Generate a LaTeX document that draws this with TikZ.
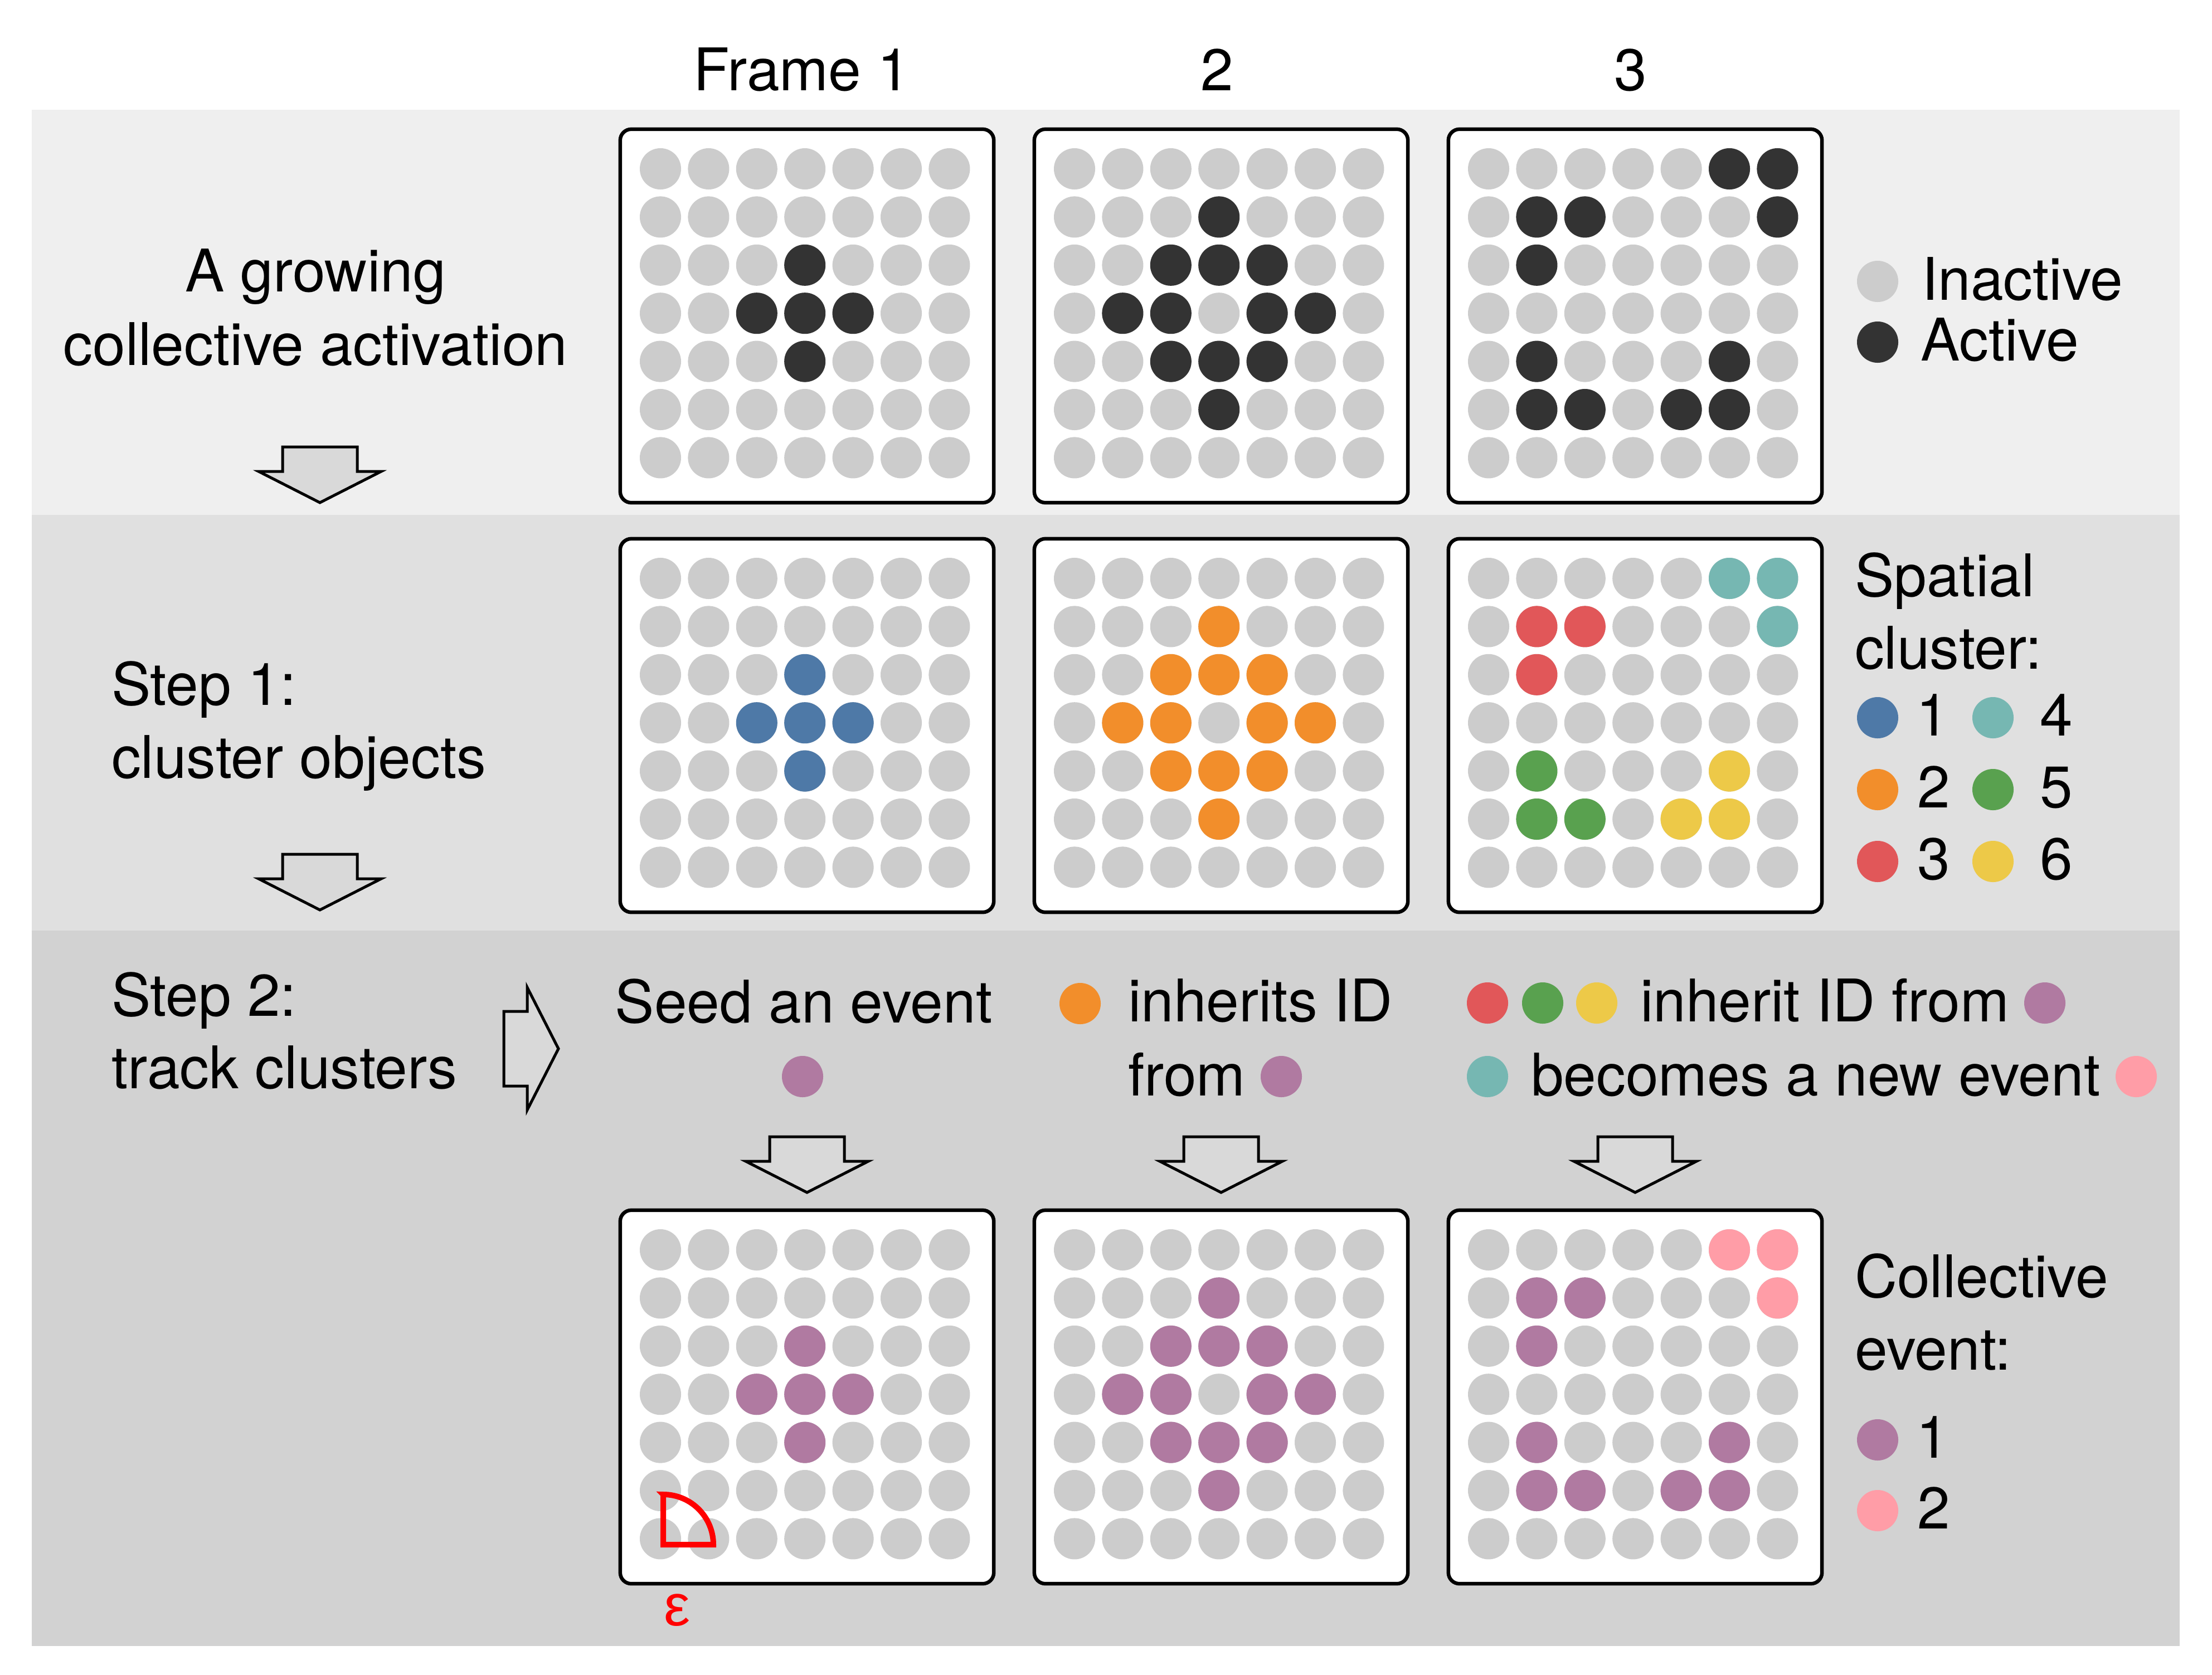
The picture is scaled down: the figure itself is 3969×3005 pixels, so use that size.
\documentclass[tikz,border=0pt]{standalone}
\usepackage{fontspec}
\setmainfont{TeX Gyre Heros}
\newfontfamily\epsfont{Liberation Sans}
\definecolor{band1}{HTML}{EFEFEF}
\definecolor{band2}{HTML}{E0E0E0}
\definecolor{band3}{HTML}{D2D2D2}
\definecolor{arrowfill}{HTML}{D9D9D9}
\definecolor{inact}{HTML}{CCCCCC}
\definecolor{act}{HTML}{333333}
\definecolor{cA}{HTML}{4E79A7}
\definecolor{cB}{HTML}{F28E2B}
\definecolor{cC}{HTML}{E15759}
\definecolor{cD}{HTML}{76B7B2}
\definecolor{cE}{HTML}{59A14F}
\definecolor{cF}{HTML}{EDC948}
\definecolor{evA}{HTML}{B07AA1}
\definecolor{evB}{HTML}{FF9DA7}
\newcommand{\greygrid}[2]{%
  \foreach \gi in {0,...,6}{\foreach \gj in {0,...,6}{%
    \fill[inact] ({#1+72+\gj*86.4},{#2+71+\gi*86.4}) circle[radius=0.37cm];}}}
\newcommand{\hilite}[4]{%
  \foreach \gr/\gc in {#4}{%
    \fill[#3] ({#1+72+\gc*86.4},{#2+71+\gr*86.4}) circle[radius=0.37cm];}}
\newcommand{\blockdown}[2]{%
  \draw[blockarrow] ({#1-67},#2) -- ({#1+67},#2) -- ({#1+67},{#2+44}) -- ({#1+110},{#2+44})
    -- (#1,{#2+100}) -- ({#1-110},{#2+44}) -- ({#1-67},{#2+44}) -- cycle;}
\begin{document}
\begin{tikzpicture}[x=0.01cm,y=-0.01cm,
  every node/.style={inner sep=0pt, outer sep=0pt},
  lbl/.style={font=\fontsize{30pt}{36pt}\selectfont, text=black},
  fbox/.style={draw=black, line width=0.065cm, rounded corners=0.2cm, fill=white,
    minimum width=6.7cm, minimum height=6.7cm},
  dot/.style={circle, minimum size=0.74cm},
  blockarrow/.style={draw=black, fill=arrowfill, line width=0.05cm, line join=miter},
]
\useasboundingbox (0,0) rectangle (3969,3005);
\fill[white] (0,0) rectangle (3969,3005);
\fill[band1] (57,197) rectangle (3911,924);
\fill[band2] (57,924) rectangle (3911,1670);
\fill[band3] (57,1670) rectangle (3911,2954);

% column titles
\node[lbl, anchor=base] (t1) at (1439,162) {Frame 1};
\node[lbl, anchor=base] (t2) at (2184,162) {2};
\node[lbl, anchor=base] (t3) at (2926,162) {3};

% left texts
\node[lbl, anchor=base] (la1) at (566,523) {A growing};
\node[lbl, anchor=base] (la2) at (566,655) {collective activation};
\node[lbl, anchor=base west] (ls1) at (200,1265) {Step 1:};
\node[lbl, anchor=base west] (ls2) at (200,1396) {cluster objects};
\node[lbl, anchor=base west] (lt1) at (200,1823) {Step 2:};
\node[lbl, anchor=base west] (lt2) at (200,1953) {track clusters};

% block arrows
\blockdown{574}{802}
\blockdown{574}{1533}
\blockdown{1448}{2040}
\blockdown{2191}{2040}
\blockdown{2934}{2040}
\draw[blockarrow] (904,1815) -- (946,1815) -- (946,1772) -- (1002,1882) -- (946,1992)
  -- (946,1949) -- (904,1949) -- cycle;

% frame boxes
\foreach \bx/\cn in {1113/1,1856/2,2599/3}{
  \foreach \by/\rn in {232/1,967/2,2172/4}{
    \node[fbox] (f\rn\cn) at ({\bx+335},{\by+335}) {};
  }
}

% row 1: activity
\greygrid{1113}{232}
\hilite{1113}{232}{act}{2/3,3/2,3/3,3/4,4/3}
\greygrid{1856}{232}
\hilite{1856}{232}{act}{1/3,2/2,2/3,2/4,3/1,3/2,3/4,3/5,4/2,4/3,4/4,5/3}
\greygrid{2599}{232}
\hilite{2599}{232}{act}{0/5,0/6,1/1,1/2,1/6,2/1,4/1,4/5,5/1,5/2,5/4,5/5}

% row 2: clusters
\greygrid{1113}{967}
\hilite{1113}{967}{cA}{2/3,3/2,3/3,3/4,4/3}
\greygrid{1856}{967}
\hilite{1856}{967}{cB}{1/3,2/2,2/3,2/4,3/1,3/2,3/4,3/5,4/2,4/3,4/4,5/3}
\greygrid{2599}{967}
\hilite{2599}{967}{cD}{0/5,0/6,1/6}
\hilite{2599}{967}{cC}{1/1,1/2,2/1}
\hilite{2599}{967}{cE}{4/1,5/1,5/2}
\hilite{2599}{967}{cF}{4/5,5/4,5/5}

% row 4: events
\greygrid{1113}{2172}
\hilite{1113}{2172}{evA}{2/3,3/2,3/3,3/4,4/3}
\greygrid{1856}{2172}
\hilite{1856}{2172}{evA}{1/3,2/2,2/3,2/4,3/1,3/2,3/4,3/5,4/2,4/3,4/4,5/3}
\greygrid{2599}{2172}
\hilite{2599}{2172}{evB}{0/5,0/6,1/6}
\hilite{2599}{2172}{evA}{1/1,1/2,2/1,4/1,4/5,5/1,5/2,5/4,5/5}

% epsilon
\draw[red, line width=0.1cm, line join=miter] (1190,2682) -- (1190,2772) -- (1280,2772)
  arc[start angle=0, end angle=90, radius=0.9cm] -- cycle;
\node[anchor=base, text=red, font=\epsfont\fontsize{30pt}{36pt}\selectfont] (eps) at (1215,2917) {ε};

% legend row 1
\node[dot, fill=inact] (mi) at (3369,505) {};
\node[lbl, anchor=base west] (li) at (3448,538) {Inactive};
\node[dot, fill=act] (ma) at (3369,614) {};
\node[lbl, anchor=base west] (la) at (3446,647) {Active};

% legend row 2
\node[lbl, anchor=base west] (lsp1) at (3328,1070) {Spatial};
\node[lbl, anchor=base west] (lsp2) at (3328,1200) {cluster:};
\node[dot, fill=cA] (m1) at (3369,1288) {};
\node[lbl, anchor=base west] (n1) at (3438,1320) {1};
\node[dot, fill=cB] (m2) at (3369,1417) {};
\node[lbl, anchor=base west] (n2) at (3440,1449) {2};
\node[dot, fill=cC] (m3) at (3369,1546) {};
\node[lbl, anchor=base west] (n3) at (3440,1578) {3};
\node[dot, fill=cD] (m4) at (3576,1288) {};
\node[lbl, anchor=base west] (n4) at (3660,1320) {4};
\node[dot, fill=cE] (m5) at (3576,1417) {};
\node[lbl, anchor=base west] (n5) at (3660,1449) {5};
\node[dot, fill=cF] (m6) at (3576,1546) {};
\node[lbl, anchor=base west] (n6) at (3660,1578) {6};

% legend row 4
\node[lbl, anchor=base west] (lce1) at (3328,2328) {Collective};
\node[lbl, anchor=base west] (lce2) at (3328,2458) {event:};
\node[dot, fill=evA] (e1) at (3369,2584) {};
\node[lbl, anchor=base west] (ne1) at (3438,2616) {1};
\node[dot, fill=evB] (e2) at (3369,2711) {};
\node[lbl, anchor=base west] (ne2) at (3440,2743) {2};

% step 2 explanations
\node[lbl, anchor=base] (seed) at (1442,1835) {Seed an event};
\node[dot, fill=evA] (sd) at (1440,1932) {};
\node[dot, fill=cB] (o2) at (1938,1801) {};
\node[lbl, anchor=base west] (inh1) at (2024,1833) {inherits ID};
\node[lbl, anchor=base west] (inh2) at (2024,1966) {from};
\node[dot, fill=evA] (p2) at (2299,1932) {};
\node[dot, fill=cC] (r3) at (2669,1800) {};
\node[dot, fill=cE] (g3) at (2768,1800) {};
\node[dot, fill=cF] (y3) at (2865,1800) {};
\node[lbl, anchor=base west] (inh3) at (2943,1833) {inherit ID from};
\node[dot, fill=evA] (p3) at (3669,1800) {};
\node[dot, fill=cD] (t4) at (2669,1932) {};
\node[lbl, anchor=base west] (new) at (2747,1966) {becomes a new event};
\node[dot, fill=evB] (k3) at (3833,1932) {};
\end{tikzpicture}
\end{document}
